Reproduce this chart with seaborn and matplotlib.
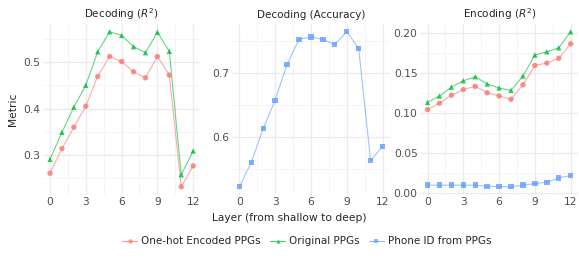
import numpy as np
import pandas as pd
import matplotlib
matplotlib.use("Agg")
import matplotlib.pyplot as plt
from matplotlib.lines import Line2D
import seaborn as sns

layers = list(range(13))

dec_r2_onehot = [0.261, 0.314, 0.360, 0.405, 0.469, 0.512, 0.501, 0.479, 0.466, 0.512, 0.472, 0.232, 0.277]
dec_r2_orig = [0.291, 0.349, 0.403, 0.450, 0.522, 0.565, 0.557, 0.533, 0.520, 0.564, 0.523, 0.258, 0.309]
dec_acc_phone = [0.523, 0.561, 0.614, 0.658, 0.714, 0.753, 0.757, 0.753, 0.745, 0.765, 0.739, 0.564, 0.586]
enc_r2_onehot = [0.104, 0.112, 0.122, 0.129, 0.133, 0.125, 0.121, 0.117, 0.135, 0.159, 0.162, 0.168, 0.186]
enc_r2_orig = [0.113, 0.121, 0.132, 0.140, 0.145, 0.136, 0.131, 0.128, 0.146, 0.172, 0.176, 0.181, 0.201]
enc_r2_phone = [0.010, 0.010, 0.010, 0.010, 0.010, 0.0086, 0.008, 0.008, 0.010, 0.012, 0.0136, 0.019, 0.022]

series_names = ["One-hot Encoded PPGs", "Original PPGs", "Phone ID from PPGs"]
colors = {"One-hot Encoded PPGs": "#F8766D", "Original PPGs": "#00BA38", "Phone ID from PPGs": "#619CFF"}
markers = {"One-hot Encoded PPGs": "o", "Original PPGs": "^", "Phone ID from PPGs": "s"}

panels = [
    ("Decoding ($R^2$)", {"One-hot Encoded PPGs": dec_r2_onehot, "Original PPGs": dec_r2_orig},
     [0.3, 0.4, 0.5], ["0.3", "0.4", "0.5"]),
    ("Decoding (Accuracy)", {"Phone ID from PPGs": dec_acc_phone},
     [0.6, 0.7], ["0.6", "0.7"]),
    ("Encoding ($R^2$)", {"One-hot Encoded PPGs": enc_r2_onehot, "Original PPGs": enc_r2_orig,
                          "Phone ID from PPGs": enc_r2_phone},
     [0.0, 0.05, 0.10, 0.15, 0.20], ["0.00", "0.05", "0.10", "0.15", "0.20"]),
]

sns.set_style("white")
plt.rcParams["font.family"] = ["DejaVu Sans"]

fig = plt.figure(figsize=(5.79, 2.58), dpi=100)
lefts = [0.074, 0.401, 0.726]
width, bottom, height = 0.272, 0.246, 0.661

for (title, data, yt, ytl), left in zip(panels, lefts):
    ax = fig.add_axes([left, bottom, width, height])
    rows = []
    for name, vals in data.items():
        for l, v in zip(layers, vals):
            rows.append({"Layer": l, "Metric": v, "Series": name})
    df = pd.DataFrame(rows)
    sns.lineplot(data=df, x="Layer", y="Metric", hue="Series", palette=colors,
                 linewidth=0.8, alpha=0.6, ax=ax, legend=False)
    sns.scatterplot(data=df, x="Layer", y="Metric", hue="Series", style="Series",
                    palette=colors, markers=markers, s=15, linewidth=0, alpha=0.8,
                    ax=ax, legend=False, zorder=3)
    allv = df["Metric"]
    rng = allv.max() - allv.min()
    ax.set_xlim(-0.6, 12.6)
    ax.set_xticks([0, 3, 6, 9, 12])
    ax.set_xticks([1.5, 4.5, 7.5, 10.5], minor=True)
    ax.set_yticks(yt)
    ax.set_yticklabels(ytl)
    step = yt[1] - yt[0]
    minor_y = [yt[0] - step / 2] + [(a + b) / 2 for a, b in zip(yt[:-1], yt[1:])] + [yt[-1] + step / 2]
    ax.set_yticks(minor_y, minor=True)
    ax.set_ylim(allv.min() - 0.05 * rng, allv.max() + 0.05 * rng)
    ax.grid(which="major", color="#EBEBEB", linewidth=0.9)
    ax.grid(which="minor", color="#F2F2F2", linewidth=0.5)
    ax.set_axisbelow(True)
    for s in ax.spines.values():
        s.set_visible(False)
    ax.tick_params(which="both", length=0, labelsize=7.7, labelcolor="#4D4D4D", pad=2)
    ax.set_title(title, fontsize=7.5, pad=4)
    ax.set_xlabel("")
    ax.set_ylabel("Metric" if left == lefts[0] else "", fontsize=7.7)

fig.text(0.5, 0.155, "Layer (from shallow to deep)", ha="center", va="center", fontsize=7.7)

handles = [Line2D([0], [0], color=colors[n], marker=markers[n], markersize=3.2, linewidth=0.8,
                  alpha=0.7, markeredgewidth=0) for n in series_names]
fig.legend(handles, series_names, loc="center", bbox_to_anchor=(0.53, 0.065), ncol=3,
           frameon=False, fontsize=7.5, handlelength=1.4, handletextpad=0.4, columnspacing=0.9)

fig.savefig("out.png", dpi=100)
